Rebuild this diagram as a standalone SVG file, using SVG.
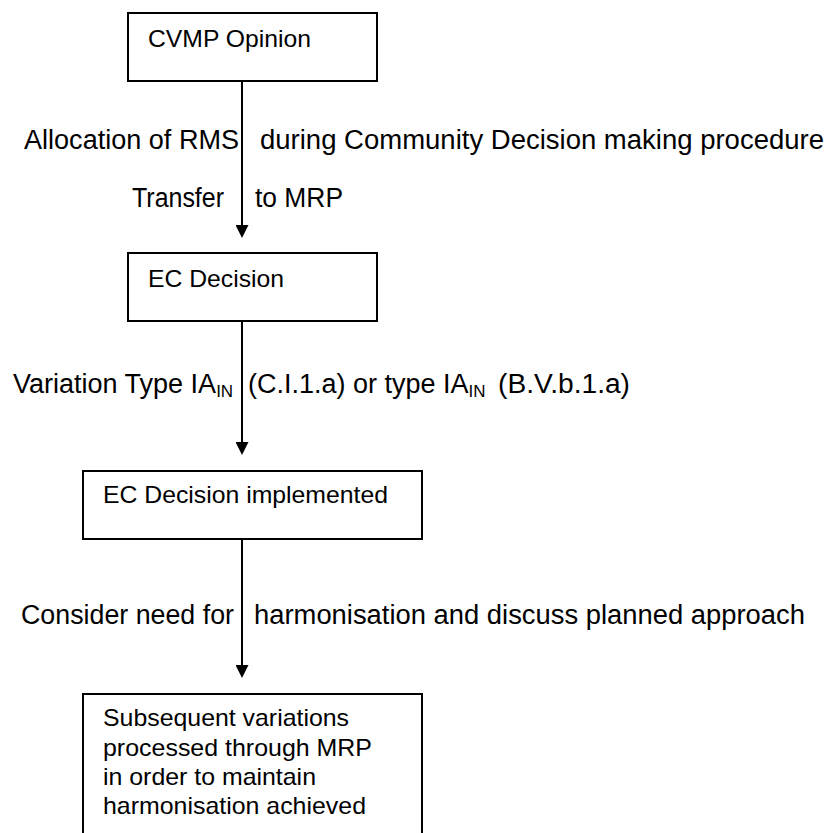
<svg xmlns="http://www.w3.org/2000/svg" width="825" height="833" viewBox="0 0 825 833">
<defs>
<style>
.box{fill:#fff;stroke:#000;stroke-width:2}
.bt{font-family:"Liberation Sans",Arial,sans-serif;font-size:24px;fill:#000}
.lb{font-family:"Liberation Sans",Arial,sans-serif;font-size:27px;fill:#000}
.sub{font-size:17px}
.con{stroke:#000;stroke-width:2;fill:none}
</style>
<marker id="ah" viewBox="0 0 13 13" refX="10" refY="6.5" markerWidth="13" markerHeight="13" markerUnits="userSpaceOnUse" orient="auto">
<path d="M0,0 L13,6.5 L0,13 Z" fill="#000"/>
</marker>
</defs>
<rect width="825" height="833" fill="#fff"/>
<g id="connectors">
<line class="con" x1="242" y1="81" x2="242" y2="235" marker-end="url(#ah)"/>
<line class="con" x1="242" y1="321" x2="242" y2="452" marker-end="url(#ah)"/>
<line class="con" x1="242" y1="539" x2="242" y2="675" marker-end="url(#ah)"/>
<text class="lb" x="24" y="149" textLength="215" lengthAdjust="spacingAndGlyphs">Allocation of RMS</text>
<text class="lb" x="260" y="149" textLength="564" lengthAdjust="spacingAndGlyphs">during Community Decision making procedure</text>
<text class="lb" x="132" y="207" textLength="92" lengthAdjust="spacingAndGlyphs">Transfer</text>
<text class="lb" x="255" y="207" textLength="88" lengthAdjust="spacingAndGlyphs">to MRP</text>
<text class="lb" x="13" y="393">Variation Type IA<tspan class="sub" dy="4">IN</tspan></text>
<text class="lb" x="248" y="393">(C.I.1.a) or type IA<tspan class="sub" dy="4">IN</tspan></text>
<text class="lb" x="498" y="393" textLength="132" lengthAdjust="spacingAndGlyphs">(B.V.b.1.a)</text>
<text class="lb" x="21" y="624" textLength="213" lengthAdjust="spacingAndGlyphs">Consider need for</text>
<text class="lb" x="254" y="624" textLength="551" lengthAdjust="spacingAndGlyphs">harmonisation and discuss planned approach</text>
</g>
<g id="cvmp-opinion">
<rect class="box" x="128" y="13" width="249" height="68"/>
<text class="bt" x="148" y="47" textLength="163" lengthAdjust="spacingAndGlyphs">CVMP Opinion</text>
</g>
<g id="ec-decision">
<rect class="box" x="128" y="253" width="249" height="68"/>
<text class="bt" x="148" y="287" textLength="136" lengthAdjust="spacingAndGlyphs">EC Decision</text>
</g>
<g id="ec-decision-implemented">
<rect class="box" x="83" y="471" width="339" height="68"/>
<text class="bt" x="103" y="503" textLength="285" lengthAdjust="spacingAndGlyphs">EC Decision implemented</text>
</g>
<g id="subsequent-variations">
<rect class="box" x="83" y="694" width="339" height="160"/>
<text class="bt" x="103" y="726" textLength="246" lengthAdjust="spacingAndGlyphs">Subsequent variations</text>
<text class="bt" x="103" y="756" textLength="269" lengthAdjust="spacingAndGlyphs">processed through MRP</text>
<text class="bt" x="103" y="785" textLength="213" lengthAdjust="spacingAndGlyphs">in order to maintain</text>
<text class="bt" x="103" y="814" textLength="263" lengthAdjust="spacingAndGlyphs">harmonisation achieved</text>
</g>
</svg>
